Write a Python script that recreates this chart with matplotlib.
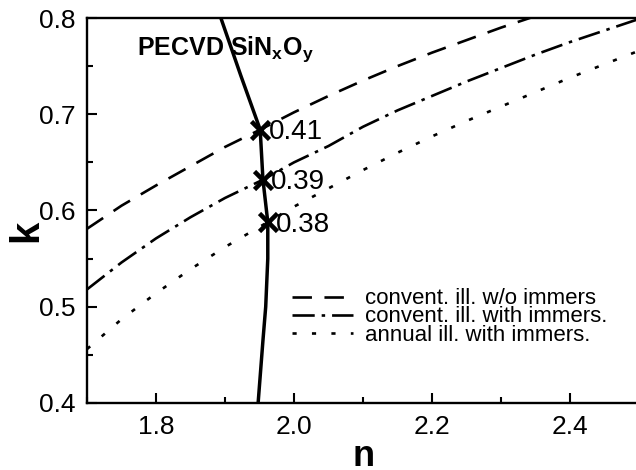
import matplotlib
matplotlib.use("Agg")
import matplotlib.pyplot as plt
from matplotlib.ticker import MultipleLocator

plt.rcParams["font.family"] = ["Liberation Sans", "DejaVu Sans"]
plt.rcParams["mathtext.fontset"] = "custom"
plt.rcParams["mathtext.rm"] = "Liberation Sans"
plt.rcParams["mathtext.bf"] = "Liberation Sans:bold"
plt.rcParams["lines.scale_dashes"] = False

# constant-reflectance contours in the (n, k) plane
n_conv_dry = [1.70, 1.75, 1.80, 1.85, 1.90, 1.951, 2.00, 2.05, 2.10, 2.15, 2.20, 2.25, 2.30, 2.35]
k_conv_dry = [0.581, 0.605, 0.626, 0.646, 0.666, 0.684, 0.702, 0.719, 0.735, 0.750, 0.764, 0.777, 0.790, 0.802]

n_conv_imm = [1.70, 1.75, 1.80, 1.85, 1.90, 1.955, 2.00, 2.05, 2.10, 2.15, 2.20, 2.25, 2.30, 2.35, 2.40, 2.45, 2.50]
k_conv_imm = [0.518, 0.546, 0.571, 0.593, 0.613, 0.632, 0.650, 0.667, 0.687, 0.704, 0.719, 0.734, 0.748, 0.762, 0.775, 0.787, 0.799]

n_annu_imm = [1.70, 1.75, 1.80, 1.85, 1.90, 1.962, 2.00, 2.05, 2.10, 2.15, 2.20, 2.25, 2.30, 2.35, 2.40, 2.45, 2.50]
k_annu_imm = [0.456, 0.487, 0.514, 0.539, 0.562, 0.588, 0.604, 0.623, 0.642, 0.660, 0.677, 0.693, 0.708, 0.723, 0.738, 0.752, 0.766]

# PECVD SiNxOy material curve
n_film = [1.894, 1.923, 1.951, 1.955, 1.962, 1.962, 1.959, 1.955, 1.948]
k_film = [0.800, 0.740, 0.684, 0.632, 0.588, 0.550, 0.500, 0.465, 0.400]

# crossing points and their labels
n_cross = [1.951, 1.955, 1.962]
k_cross = [0.684, 0.632, 0.588]
cross_labels = ["0.41", "0.39", "0.38"]

fig = plt.figure(figsize=(6.36, 4.70), dpi=100)
ax = fig.add_axes([87 / 636, 67 / 470, 552 / 636, 385 / 470])

lw = 1.9
ax.plot(n_conv_dry, k_conv_dry, color="black", lw=lw, ls=(0, (14, 9)),
        label="convent. ill. w/o immers")
ax.plot(n_conv_imm, k_conv_imm, color="black", lw=lw, ls=(0, (16, 5, 2.5, 5)),
        label="convent. ill. with immers.")
ax.plot(n_annu_imm, k_annu_imm, color="black", lw=lw, ls=(0, (3, 11)),
        label="annual ill. with immers.")
ax.plot(n_film, k_film, color="black", lw=2.5, zorder=4)

ax.plot(n_cross, k_cross, ls="none", marker="x", color="black",
        markersize=12.5, markeredgewidth=3.3, zorder=5)
for n, k, s in zip(n_cross, k_cross, cross_labels):
    ax.annotate(s, (n, k), xytext=(6, -2), textcoords="offset points",
                ha="left", va="center", fontsize=20, zorder=6)

ax.text(0.0906, 1 - (55 - 18) / 385, r"PECVD SiN$_{\bf x}$O$_{\bf y}$",
        transform=ax.transAxes, fontsize=18, fontweight="bold",
        ha="left", va="baseline")

ax.set_xlim(1.7, 2.5)
ax.set_ylim(0.4, 0.8)
ax.xaxis.set_major_locator(MultipleLocator(0.2))
ax.xaxis.set_minor_locator(MultipleLocator(0.1))
ax.yaxis.set_major_locator(MultipleLocator(0.1))
ax.yaxis.set_minor_locator(MultipleLocator(0.05))
ax.xaxis.set_major_formatter(lambda v, p: f"{v:.1f}")
ax.yaxis.set_major_formatter(lambda v, p: f"{v:.1f}")
ax.tick_params(which="both", direction="in", width=1.5, labelsize=19,
               top=False, right=False)
ax.tick_params(which="major", length=7)
ax.tick_params(axis="x", which="major", pad=9)
ax.tick_params(axis="y", which="major", pad=8)
ax.tick_params(which="minor", length=4)
for sp in ax.spines.values():
    sp.set_linewidth(1.7)

fig.text(26 / 636, 1 - 231 / 470, "k", rotation=90, ha="center", va="center",
         fontsize=29, fontweight="bold")
fig.text(364 / 636, 1 - 466 / 470, "n", ha="center", va="baseline",
         fontsize=26, fontweight="bold")

ax.legend(loc="center left", bbox_to_anchor=(292 / 636, 1 - 317 / 470),
          bbox_transform=fig.transFigure, frameon=False, fontsize=16,
          borderpad=0, borderaxespad=0, handlelength=2.75, handletextpad=0.54,
          labelspacing=-0.13)

fig.savefig("out.png", dpi=100)
